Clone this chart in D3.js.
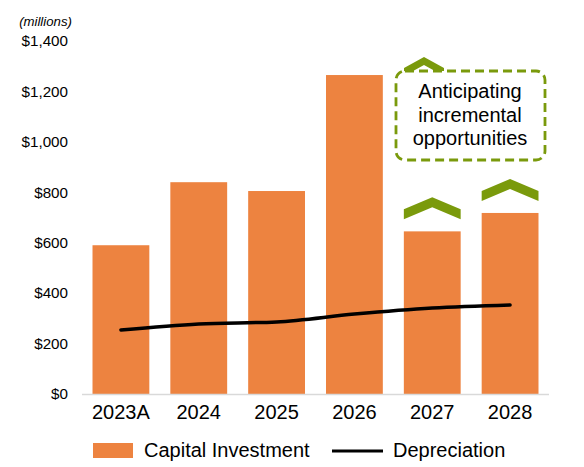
<!DOCTYPE html>
<html><head><meta charset="utf-8">
<script src="https://cdn.jsdelivr.net/npm/d3@7"></script>
<style>body{margin:0;background:#fff}svg{display:block;font-family:"Liberation Sans",Arial,sans-serif}</style>
</head><body><svg id="c" width="584" height="467"></svg>
<script>
const categories = ["2023A","2024","2025","2026","2027","2028"];
const capitalInvestment = [590, 840, 805, 1265, 645, 718];
const depreciation = [254, 278, 286, 317, 341, 353];
const yTicks = [0,200,400,600,800,1000,1200,1400];
const upsideYears = ["2027","2028"];

const svg = d3.select("#c");
const orange = "#ED8340", green = "#7A9A0C";
const x = d3.scaleBand().domain(categories).range([82,549]).paddingInner(0.27).paddingOuter(0.135);
const y = d3.scaleLinear().domain([0,1400]).range([394,41]);

// y labels
svg.append("g").selectAll("text").data(yTicks).join("text")
  .attr("x",68).attr("y",d=>y(d)).attr("dy","0.35em").attr("text-anchor","end")
  .attr("font-size",15.2).attr("fill","#000")
  .text(d=>"$"+d3.format(",")(d));
svg.append("text").attr("x",45.5).attr("y",26).attr("text-anchor","middle")
  .attr("font-size",13.2).attr("font-style","italic").text("(millions)");

// bars
svg.append("g").selectAll("rect").data(categories).join("rect")
  .attr("x",d=>x(d)).attr("width",x.bandwidth())
  .attr("y",(d,i)=>y(capitalInvestment[i])).attr("height",(d,i)=>y(0)-y(capitalInvestment[i]))
  .attr("fill",orange);

// axis line
svg.append("line").attr("x1",82).attr("x2",549).attr("y1",394.5).attr("y2",394.5)
  .attr("stroke","#D9D9D9").attr("stroke-width",1.5);

// x labels
svg.append("g").selectAll("text").data(categories).join("text")
  .attr("x",d=>x(d)+x.bandwidth()/2).attr("y",419).attr("text-anchor","middle")
  .attr("font-size",20).text(d=>d);

// depreciation line
const line = d3.line().x((d,i)=>x(categories[i])+x.bandwidth()/2).y(d=>y(d)).curve(d3.curveMonotoneX);
svg.append("path").datum(depreciation).attr("d",line).attr("fill","none")
  .attr("stroke","#000").attr("stroke-width",3.5).attr("stroke-linecap","round");

// chevrons
function chevron(cx, top, w, h, t){
  const hw=w/2;
  return `M${cx-hw},${top+h-t} L${cx},${top} L${cx+hw},${top+h-t} L${cx+hw},${top+h} L${cx},${top+t} L${cx-hw},${top+h} Z`;
}
upsideYears.forEach(k=>{
  const i = categories.indexOf(k);
  const cx = x(k)+x.bandwidth()/2;
  const top = y(capitalInvestment[i]) - 34;
  svg.append("path").attr("d",chevron(cx, top, x.bandwidth(), 22, 10)).attr("fill",green);
});
// chevron above the box
svg.append("path").attr("d",chevron(424, 57, 40, 19, 8)).attr("fill",green);

// callout box
svg.append("rect").attr("x",396).attr("y",71).attr("width",149).attr("height",89)
  .attr("rx",9).attr("fill","#fff").attr("stroke",green).attr("stroke-width",2.8)
  .attr("stroke-dasharray","9,5");
const lines = ["Anticipating","incremental","opportunities"];
svg.append("g").selectAll("text").data(lines).join("text")
  .attr("x",470).attr("y",(d,i)=>98+i*23.5).attr("text-anchor","middle")
  .attr("font-size",20).text(d=>d);

// legend
svg.append("rect").attr("x",93).attr("y",443).attr("width",40).attr("height",15).attr("fill",orange);
svg.append("text").attr("x",144).attr("y",457).attr("font-size",20).text("Capital Investment");
svg.append("line").attr("x1",332).attr("x2",383).attr("y1",451).attr("y2",451).attr("stroke","#000").attr("stroke-width",3);
svg.append("text").attr("x",393).attr("y",457).attr("font-size",20).text("Depreciation");
</script></body></html>
